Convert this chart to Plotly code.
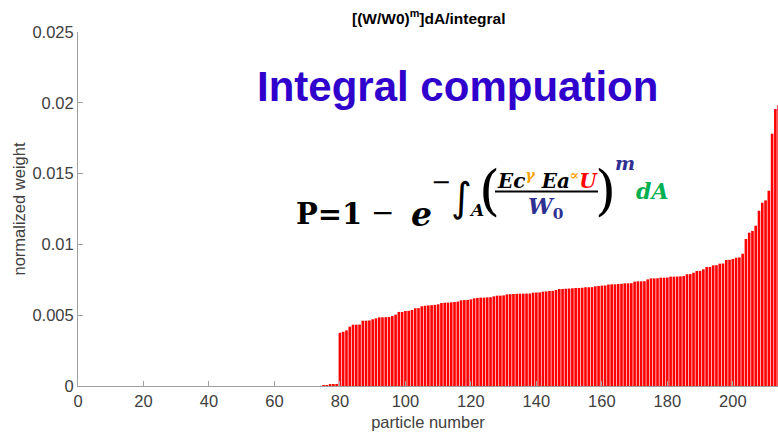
import plotly.graph_objects as go

# Normalized weight of each particle, sorted ascending
weights = [
    0, 0, 0, 0, 0, 0, 0, 0, 0, 0,
    0, 0, 0, 0, 0, 0, 0, 0, 0, 0,
    0, 0, 0, 0, 0, 0, 0, 0, 0, 0,
    0, 0, 0, 0, 0, 0, 0, 0, 0, 0,
    0, 0, 0, 0, 0, 0, 0, 0, 0, 0,
    0, 0, 0, 0, 0, 0, 0, 0, 0, 0,
    0, 0, 0, 0, 0, 0, 0, 0, 0, 0,
    0, 0, 0, 0,
    0.00005, 0.00007, 0.00009, 0.00011, 0.00014,
    0.00376, 0.00383, 0.00393, 0.00419, 0.00433, 0.00433, 0.00434, 0.00461, 0.00461, 0.00463,
    0.00471, 0.00478, 0.00485, 0.00485, 0.00486, 0.00487, 0.00494, 0.00504, 0.00523, 0.00523,
    0.00530, 0.00531, 0.00537, 0.00549, 0.00550, 0.00563, 0.00567, 0.00569, 0.00571, 0.00573,
    0.00577, 0.00586, 0.00588, 0.00589, 0.00591, 0.00593, 0.00596, 0.00605, 0.00607, 0.00608,
    0.00612, 0.00619, 0.00622, 0.00624, 0.00624, 0.00626, 0.00627, 0.00633, 0.00638, 0.00638,
    0.00640, 0.00647, 0.00648, 0.00650, 0.00651, 0.00652, 0.00652, 0.00653, 0.00653, 0.00659,
    0.00660, 0.00661, 0.00666, 0.00668, 0.00671, 0.00672, 0.00678, 0.00685, 0.00685, 0.00687,
    0.00688, 0.00690, 0.00692, 0.00692, 0.00694, 0.00697, 0.00697, 0.00698, 0.00704, 0.00706,
    0.00709, 0.00710, 0.00716, 0.00718, 0.00718, 0.00720, 0.00722, 0.00725, 0.00725, 0.00726,
    0.00737, 0.00739, 0.00739, 0.00740, 0.00753, 0.00760, 0.00760, 0.00761, 0.00765, 0.00765,
    0.00766, 0.00772, 0.00772, 0.00773, 0.00774, 0.00777, 0.00789, 0.00790, 0.00800, 0.00812,
    0.00813, 0.00824, 0.00840, 0.00841, 0.00852, 0.00853, 0.00864, 0.00865, 0.00890, 0.00891,
    0.00897, 0.00906, 0.00908, 0.00934, 0.01038, 0.01083, 0.01095, 0.01132, 0.01238, 0.01294,
    0.01311, 0.01379, 0.01782, 0.01956, 0.01984,
]
particles = list(range(1, len(weights) + 1))

x_ticks = [0, 20, 40, 60, 80, 100, 120, 140, 160, 180, 200]
y_ticks = [0, 0.005, 0.01, 0.015, 0.02, 0.025]
y_tick_labels = ["0", "0.005", "0.01", "0.015", "0.02", "0.025"]

W, H = 778, 433
L, R, T, B = 78, 0, 32, 47
PW, PH = W - L - R, H - T - B


def px(x):
    return (x - L) / PW


def py(y):
    return (H - B - y) / PH


fig = go.Figure(
    go.Bar(
        x=particles,
        y=weights,
        marker=dict(color="#ff0000", line=dict(width=0)),
        hoverinfo="x+y",
    )
)

AX = "#a0a0a0"
TXT = "#404040"
SANS = "Liberation Sans, Arial, sans-serif"
SERIF = "DejaVu Serif, serif"
FS = 16.5

fig.update_layout(
    width=W,
    height=H,
    margin=dict(l=L, r=R, t=T, b=B),
    paper_bgcolor="white",
    plot_bgcolor="white",
    bargap=0.2,
    showlegend=False,
    font=dict(family=SANS, size=FS, color=TXT),
    xaxis=dict(
        range=[0, 213.8],
        tickvals=x_ticks,
        ticks="inside",
        ticklen=5,
        tickcolor=AX,
        showline=True,
        linecolor=AX,
        linewidth=1,
        showgrid=False,
        zeroline=False,
        tickfont=dict(size=FS, color=TXT),
        title=dict(text="particle number", font=dict(size=FS, color=TXT), standoff=7),
    ),
    yaxis=dict(
        range=[0, 0.025],
        tickvals=y_ticks,
        ticktext=y_tick_labels,
        ticks="inside",
        ticklen=5,
        tickcolor=AX,
        showline=True,
        linecolor=AX,
        linewidth=1,
        showgrid=False,
        zeroline=False,
        tickfont=dict(size=FS, color=TXT),
        title=dict(text="normalized weight", font=dict(size=FS, color=TXT), standoff=2),
    ),
)

ann = []


def add(text, x, y, size, color="black", family=SERIF, xanchor="center", yanchor="middle"):
    ann.append(dict(
        text=text, x=px(x), y=py(y), xref="paper", yref="paper",
        xanchor=xanchor, yanchor=yanchor, showarrow=False, borderpad=0,
        font=dict(size=size, color=color, family=family),
    ))


# chart title
add("<b>[(W/W0)<sup>m</sup>]dA/integral</b>", 428, 17, 15.5, color="#000000", family=SANS)

# headline
add("<b>Integral compuation</b>", 457, 86, 42, color="#3000cc", family=SANS)

# P = 1 - e^{-∫_A ((Ec^γ Ea^∝ U)/W0)^m dA}
ORANGE = "#ffa000"
NAVY = "#2e3192"
GREEN = "#00b050"
add("<b>P=1</b>", 295, 214, 29, xanchor="left")
add("−", 382, 212, 28)
add("<b><i>e</i></b>", 421, 214, 33)
add("−", 441, 182, 24)
add("∫", 461, 197, 40, family="DejaVu Sans, sans-serif")
add("<b><i>A</i></b>", 476, 210, 17)
add("(", 490, 190, 54)
add(
    "<b><i>Ec<span style='color:%s'><sup>γ</sup></span> Ea"
    "<span style='color:%s'><sup>∝</sup></span>"
    "<span style='color:#ff0000'>U</span></i></b>" % (ORANGE, ORANGE),
    547, 180, 20,
)
add("<b><i>W</i><sub>0</sub></b>", 545, 208, 22, color=NAVY)
add(")", 605, 190, 54)
add("<b><i>m</i></b>", 625, 163, 19, color=NAVY)
add("<b><i>dA</i></b>", 652, 191, 22, color=GREEN)

fig.update_layout(
    annotations=ann,
    shapes=[dict(
        type="line", xref="paper", yref="paper",
        x0=px(495), x1=px(598), y0=py(191.5), y1=py(191.5),
        line=dict(color="black", width=2),
    )],
)

fig.write_html("out.html")
